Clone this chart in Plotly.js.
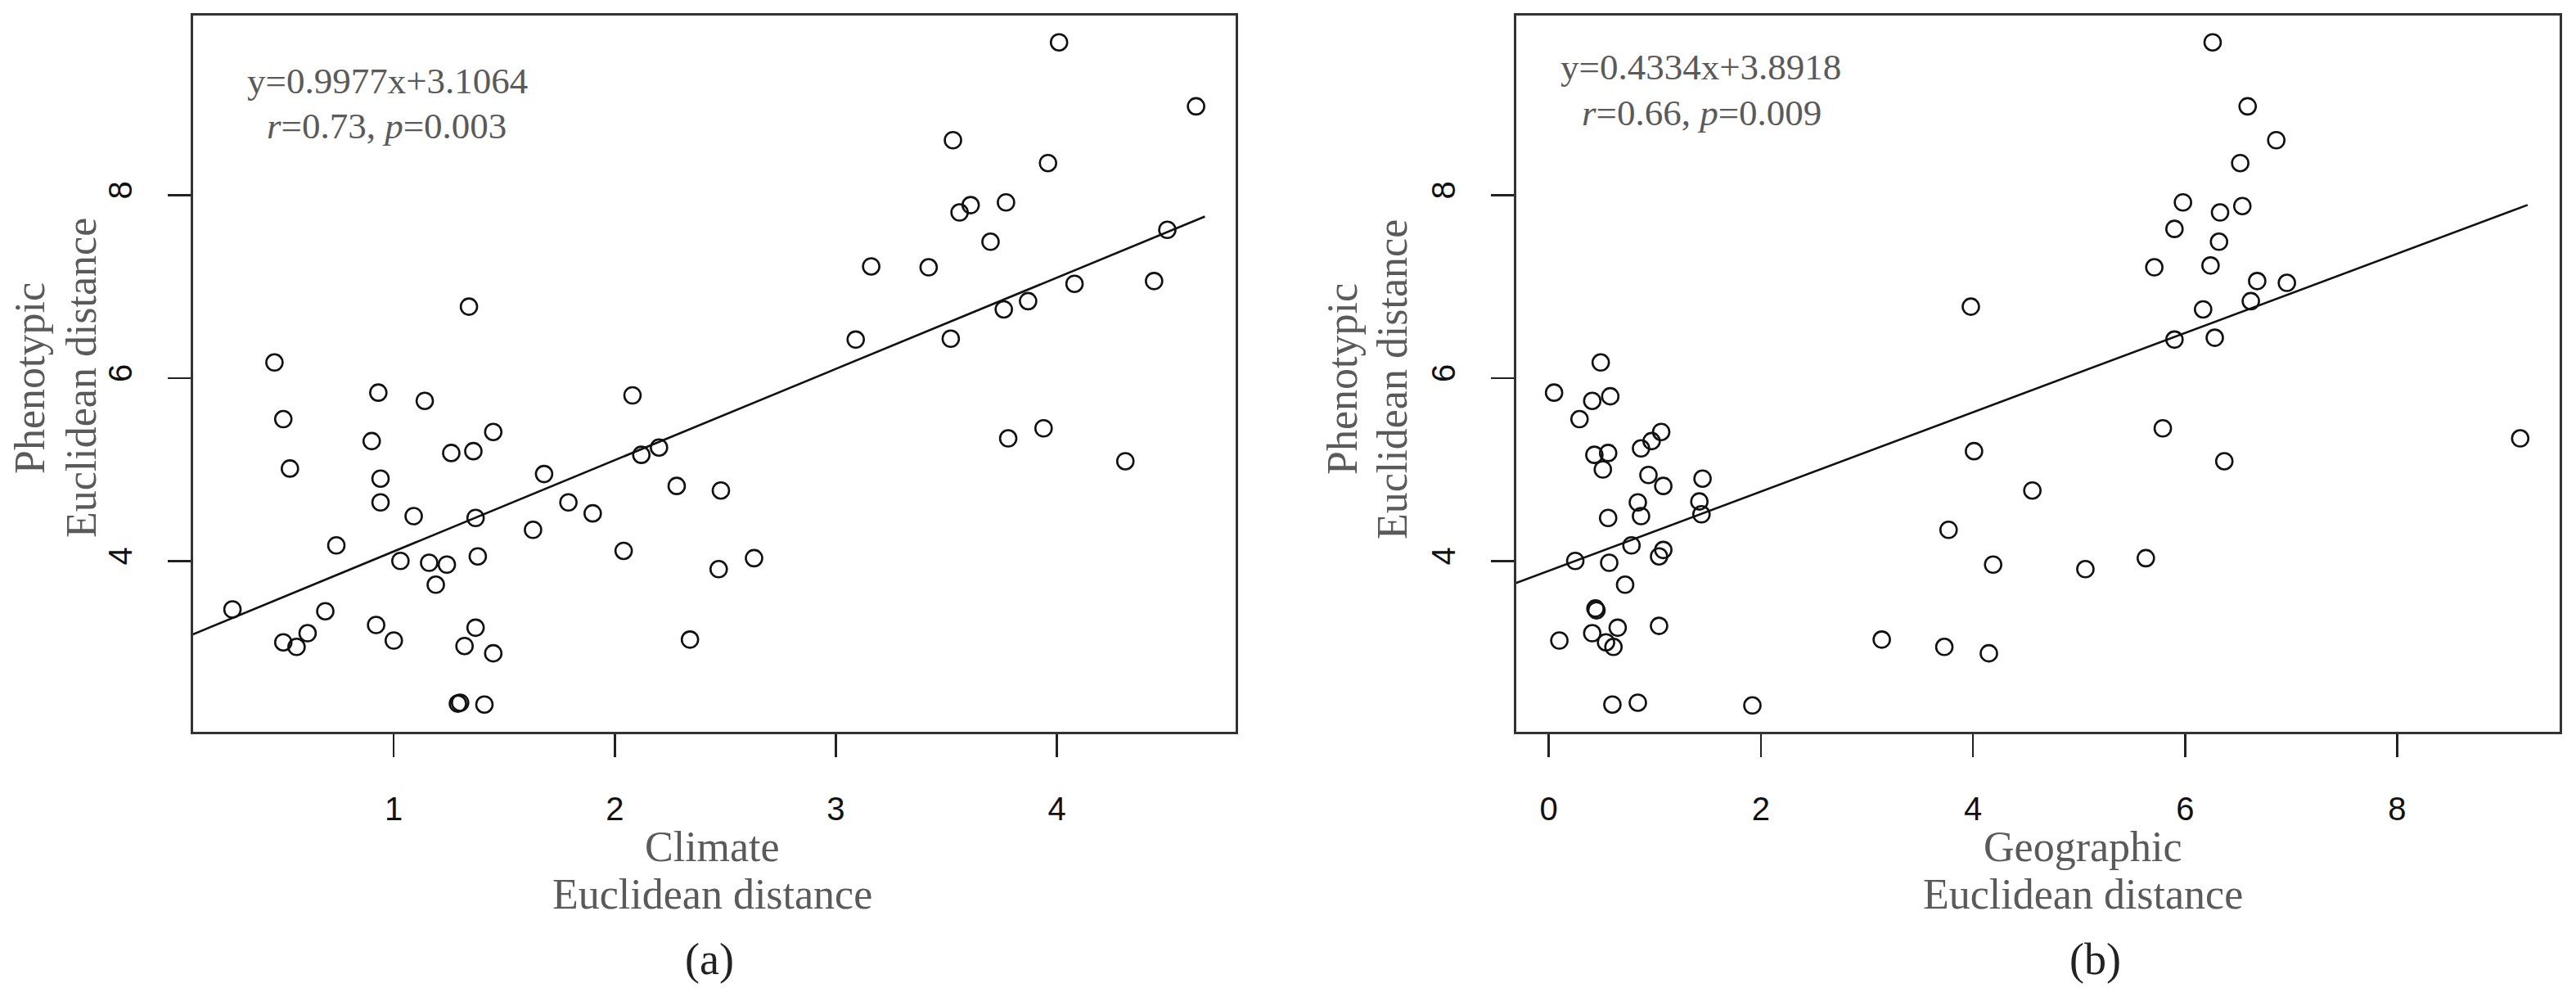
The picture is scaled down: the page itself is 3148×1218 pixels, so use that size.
<!DOCTYPE html>
<html>
<head>
<meta charset="utf-8">
<script src="https://cdn.plot.ly/plotly-3.0.1.min.js"></script>
<style>
  html, body { margin: 0; padding: 0; background: #fff; }
  #chart { width: 3148px; height: 1218px; }
</style>
</head>
<body>
<div id="chart"></div>
<script>
// Panel (a): climate distance vs phenotypic distance
const climateDistance = [
  1.34, 0.46, 4.01, 4.63, 3.53, 3.96, 3.61, 3.56, 3.77, 4.50,
  3.70, 3.16, 3.42, 4.08, 4.44, 3.87, 3.76, 3.09, 3.52, 2.08,
  2.12, 2.20, 1.90, 2.28, 2.48, 2.04, 2.47, 2.63, 2.34, 3.78,
  3.94, 4.31, 0.93, 1.14, 0.50, 0.90, 1.45, 1.26, 1.36, 0.53,
  0.94, 1.68, 0.94, 1.79, 1.09, 1.37, 1.63, 0.74, 1.03, 1.16,
  1.24, 1.38, 1.19, 0.27, 0.69, 0.61, 0.50, 0.56, 0.92, 1.00,
  1.37, 1.32, 1.45, 1.29, 1.30, 1.41,
];
const climatePhenotypic = [
  6.78, 6.17, 9.67, 8.97, 8.60, 8.35, 7.89, 7.81, 7.92, 7.62,
  7.49, 7.22, 7.21, 7.03, 7.06, 6.84, 6.75, 6.42, 6.43, 5.81,
  5.16, 5.24, 4.52, 4.82, 4.77, 4.11, 3.91, 4.03, 3.14, 5.34,
  5.45, 5.09, 5.84, 5.75, 5.55, 5.31, 5.41, 5.18, 5.20, 5.01,
  4.90, 4.95, 4.64, 4.64, 4.49, 4.47, 4.34, 4.17, 4.00, 3.98,
  3.96, 4.05, 3.74, 3.47, 3.45, 3.21, 3.11, 3.06, 3.30, 3.13,
  3.27, 3.07, 2.99, 2.44, 2.45, 2.43,
];

// Panel (b): geographic distance vs phenotypic distance
const geoDistance = [
  3.98, 0.49, 6.26, 6.59, 6.86, 6.52, 5.98, 6.54, 6.33, 5.90,
  6.32, 5.71, 6.24, 6.68, 6.96, 6.62, 6.17, 5.90, 6.28, 4.01,
  5.79, 6.37, 9.16, 4.56, 4.19, 5.06, 5.63, 4.15, 3.77, 3.14,
  3.73, 1.92, 0.60, 0.84, 0.05, 0.41, 0.58, 0.29, 1.06, 0.97,
  0.87, 0.43, 0.56, 0.51, 0.94, 1.45, 1.08, 0.84, 1.42, 1.44,
  0.56, 0.87, 0.78, 0.25, 0.57, 1.08, 1.04, 0.72, 0.44, 0.45,
  0.41, 0.65, 1.04, 0.10, 0.54, 0.61,
];
const geoPhenotypic = [
  6.78, 6.17, 9.67, 8.97, 8.60, 8.35, 7.92, 7.88, 7.81, 7.63,
  7.49, 7.21, 7.23, 7.06, 7.04, 6.84, 6.75, 6.42, 6.44, 5.20,
  5.45, 5.09, 5.34, 4.77, 3.96, 3.91, 4.03, 2.99, 4.34, 3.14,
  3.06, 2.42, 2.43, 2.45, 5.84, 5.75, 5.80, 5.55, 5.41, 5.31,
  5.23, 5.16, 5.18, 5.00, 4.94, 4.90, 4.82, 4.64, 4.65, 4.51,
  4.47, 4.49, 4.17, 4.00, 3.98, 4.12, 4.05, 3.74, 3.48, 3.46,
  3.21, 3.27, 3.29, 3.13, 3.11, 3.06,
];

// Fitted lines: [slope, intercept] and the x span each line was drawn over
const climateFit = [0.9977, 3.1064];
const climateFitSpan = [0, 4.67];
const geoFit = [0.4334, 3.8918];
const geoFitSpan = [-0.5, 9.23];

const climateTicks = [1, 2, 3, 4];
const geoTicks = [0, 2, 4, 6, 8];
const phenoTicks = [4, 6, 8];

const W = 3148;
const H = 1218;
const SERIF = "Liberation Serif, Times New Roman, serif";
const SANS = "Liberation Sans, Arial, sans-serif";
const GREY = "#5a5a5a";

function pointsTrace(x, y, axes) {
  return {
    x, y, ...axes,
    type: "scatter",
    mode: "markers",
    hoverinfo: "skip",
    marker: { symbol: "circle-open", size: 20, color: "#111", line: { width: 2.6 } },
  };
}

function fitTrace(span, fit, axes) {
  return {
    x: span,
    y: span.map((v) => fit[0] * v + fit[1]),
    ...axes,
    type: "scatter",
    mode: "lines",
    hoverinfo: "skip",
    line: { color: "#111", width: 2.6 },
  };
}

function axisStyle(extra) {
  return {
    showline: true,
    linecolor: "#333",
    linewidth: 3,
    mirror: true,
    ticks: "outside",
    ticklen: 28,
    tickwidth: 2.5,
    tickcolor: "#222",
    showgrid: false,
    zeroline: false,
    fixedrange: true,
    tickfont: { family: SANS, size: 40, color: "#111" },
    ...extra,
  };
}

// positions are given in page pixels, converted to paper fractions
function label(text, x, y, size, color, angle = 0) {
  return {
    xref: "paper", yref: "paper",
    x: x / W, y: 1 - y / H,
    xanchor: "center", yanchor: "middle",
    text,
    textangle: angle,
    showarrow: false,
    font: { family: SERIF, size, color },
  };
}

const yDomain = [1 - 894 / H, 1 - 18.5 / H];
const yRange = [2.132, 9.967];

const layout = {
  width: W,
  height: H,
  margin: { l: 0, r: 0, t: 0, b: 0 },
  paper_bgcolor: "#fff",
  plot_bgcolor: "#fff",
  showlegend: false,
  xaxis: axisStyle({ domain: [236 / W, 1510 / W], range: [0.092, 4.809], tickvals: climateTicks, ticklabelstandoff: 29 }),
  yaxis: axisStyle({ domain: yDomain, range: yRange, tickvals: phenoTicks, tickangle: -90, ticklabelstandoff: 28 }),
  xaxis2: axisStyle({ domain: [1853 / W, 3127.5 / W], range: [-0.306, 9.528], tickvals: geoTicks, anchor: "y2", ticklabelstandoff: 29 }),
  yaxis2: axisStyle({ domain: yDomain, range: yRange, tickvals: phenoTicks, tickangle: -90, anchor: "x2", ticklabelstandoff: 28 }),
  annotations: [
    label("y=0.9977x+3.1064", 473, 99, 45, GREY),
    label("<i>r</i>=0.73, <i>p</i>=0.003", 472, 154, 45, GREY),
    label("y=0.4334x+3.8918", 2078, 82, 45, GREY),
    label("<i>r</i>=0.66, <i>p</i>=0.009", 2079, 138, 45, GREY),

    label("Climate", 871, 1034, 52, GREY),
    label("Euclidean distance", 871, 1092, 52, GREY),
    label("Geographic", 2545, 1034, 52, GREY),
    label("Euclidean distance", 2545, 1092, 52, GREY),

    label("Phenotypic", 36, 462, 52, GREY, -90),
    label("Euclidean distance", 99, 462, 52, GREY, -90),
    label("Phenotypic", 1640, 463, 52, GREY, -90),
    label("Euclidean distance", 1701, 463, 52, GREY, -90),

    label("(a)", 867, 1172, 54, "#222"),
    label("(b)", 2560, 1172, 54, "#222"),
  ],
};

const data = [
  pointsTrace(climateDistance, climatePhenotypic, { xaxis: "x", yaxis: "y" }),
  fitTrace(climateFitSpan, climateFit, { xaxis: "x", yaxis: "y" }),
  pointsTrace(geoDistance, geoPhenotypic, { xaxis: "x2", yaxis: "y2" }),
  fitTrace(geoFitSpan, geoFit, { xaxis: "x2", yaxis: "y2" }),
];

Plotly.newPlot("chart", data, layout, { displayModeBar: false, staticPlot: true });
</script>
</body>
</html>
